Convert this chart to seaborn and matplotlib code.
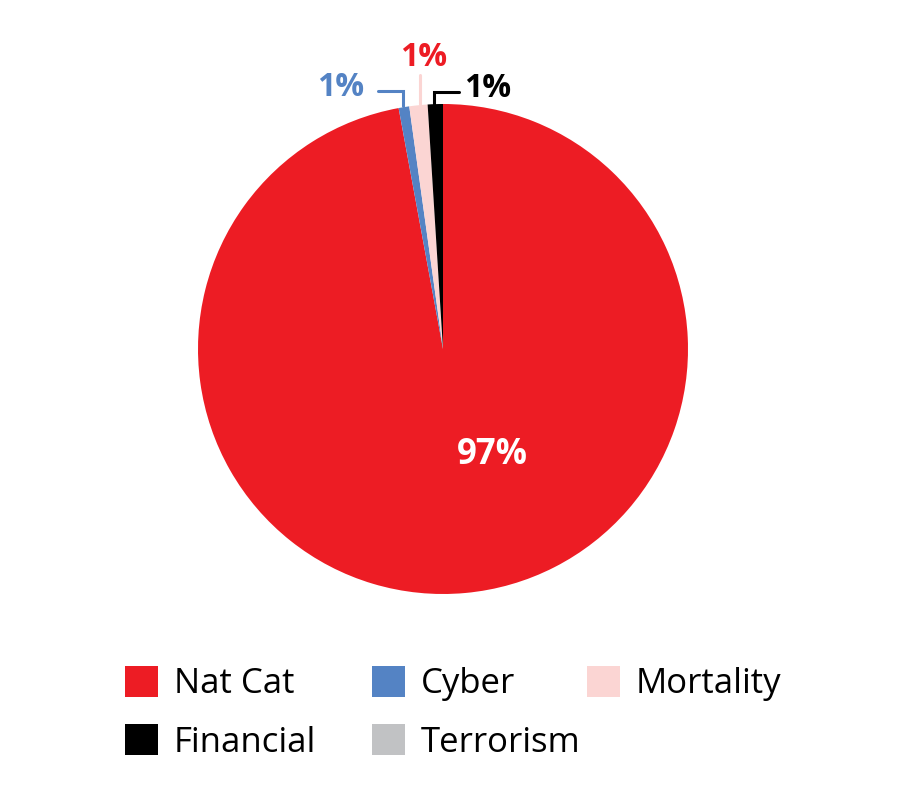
import matplotlib
matplotlib.use("Agg")
import matplotlib.pyplot as plt
from matplotlib.patches import Patch
import seaborn as sns

categories = ["Nat Cat", "Cyber", "Mortality", "Financial", "Terrorism"]
shares = [97.1, 0.7, 1.2, 1.0, 0.0]
labels = ["97%", "1%", "1%", "1%", ""]
colors = ["#ED1C24", "#5483C4", "#FBD5D3", "#000000", "#C1C2C4"]
label_colors = ["white", "#5483C4", "#ED1C24", "#000000", "#000000"]

sns.set_theme(style="white")
plt.rcParams["font.family"] = ["Open Sans", "DejaVu Sans"]
plt.rcParams["text.color"] = "black"

fig = plt.figure(figsize=(9.01, 7.98), dpi=100)
fig.patch.set_facecolor("white")
ax = fig.add_axes([198 / 901, (798 - 594) / 798, 490 / 901, 490 / 798])
wedges, _ = ax.pie(shares, colors=colors, startangle=90, counterclock=False,
                   radius=1.0, wedgeprops=dict(linewidth=0))
ax.set_xlim(-1, 1)
ax.set_ylim(-1, 1)
ax.set_aspect("equal")
ax.axis("off")

# big label
ax.text(0.20, -0.433, labels[0], color=label_colors[0], fontsize=25,
        fontweight="bold", ha="center", va="center")

# small labels with connector lines
lw = 2.2
ax.text(-0.418, 1.067, labels[1], color=label_colors[1], fontsize=23,
        fontweight="bold", ha="center", va="center", clip_on=False)
ax.plot([-0.265, -0.163, -0.163], [1.053, 1.053, 0.99], color=colors[1], lw=lw,
        clip_on=False, solid_joinstyle="miter")

ax.text(-0.08, 1.19, labels[2], color=label_colors[2], fontsize=23,
        fontweight="bold", ha="center", va="center", clip_on=False)
ax.plot([-0.093, -0.093], [1.12, 1.0], color=colors[2], lw=lw, clip_on=False)

ax.text(0.182, 1.065, labels[3], color=label_colors[3], fontsize=23,
        fontweight="bold", ha="center", va="center", clip_on=False)
ax.plot([0.065, -0.037, -0.037], [1.049, 1.049, 0.99], color="black", lw=lw,
        clip_on=False, solid_joinstyle="miter")

# legend: three columns placed like the reference (rows read across)
handles = [Patch(facecolor=c, edgecolor="none", label=l) for c, l in zip(colors, categories)]
columns = [[0, 3], [1, 4], [2]]
col_x = [125, 372, 587]
for idx, x in zip(columns, col_x):
    fig.legend(handles=[handles[i] for i in idx], loc="upper left",
               bbox_to_anchor=(x / 901, 1 - 666 / 798), frameon=False,
               prop=dict(size=25), handlelength=0.95, handleheight=1.0,
               handletextpad=0.45, labelspacing=0.66, borderpad=0,
               borderaxespad=0, labelcolor="black")

fig.savefig("out.png", dpi=100, facecolor="white")
